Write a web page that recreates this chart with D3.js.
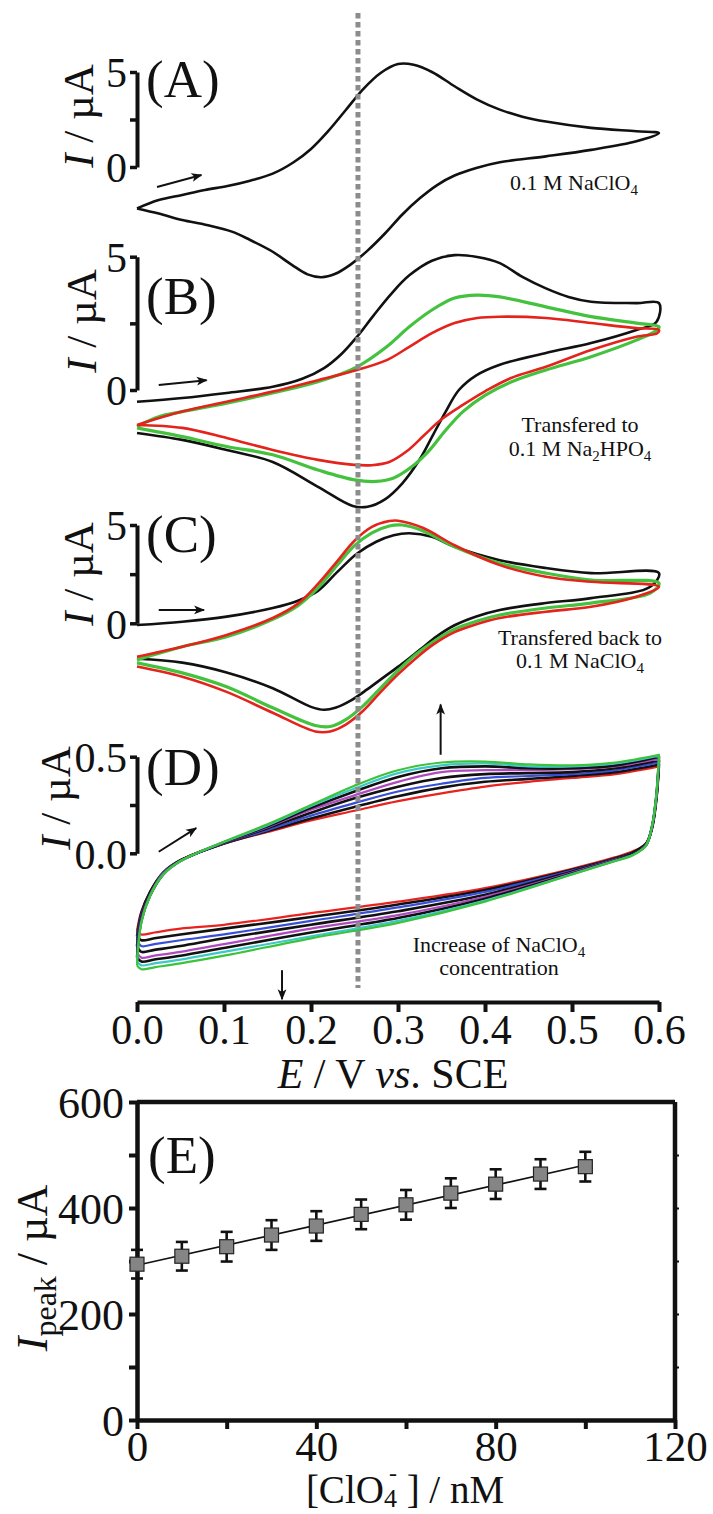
<!DOCTYPE html>
<html><head><meta charset="utf-8">
<script src="https://cdn.jsdelivr.net/npm/d3@7"></script>
<style>
body{margin:0;background:#fff}
text{font-family:"Liberation Serif","Times New Roman",serif;fill:#111}
</style>
</head><body>
<svg id="c" width="713" height="1514"></svg>
<script>
// ---------- DATA ----------
// Panel A (0.1 M NaClO4) : [E (V), I (uA)]
const cvA = [[0,-2.18],[0.025,-1.74],[0.052,-1.47],[0.078,-1.21],[0.104,-1.0],[0.13,-0.72],[0.156,-0.35],[0.18,0.25],[0.2,0.95],[0.22,1.9],[0.24,3.0],[0.26,4.1],[0.28,4.95],[0.3,5.42],[0.318,5.38],[0.339,5.0],[0.365,4.25],[0.391,3.55],[0.417,3.02],[0.443,2.65],[0.47,2.39],[0.522,2.06],[0.574,1.88],[0.6,1.78],
  [0.574,1.35],[0.522,0.9],[0.47,0.56],[0.417,0.25],[0.39,-0.05],[0.365,-0.45],[0.345,-0.95],[0.325,-1.65],[0.305,-2.5],[0.285,-3.5],[0.265,-4.4],[0.245,-5.15],[0.228,-5.62],[0.212,-5.8],[0.196,-5.65],[0.178,-5.15],[0.156,-4.46],[0.13,-3.84],[0.109,-3.4],[0.08,-3.05],[0.052,-2.79],[0.025,-2.45],[0,-2.18]];
// Panel B (transferred to Na2HPO4)
const cvBblack = [[0,-0.44],[0.052,-0.30],[0.103,-0.11],[0.156,0.12],[0.19,0.42],[0.215,0.82],[0.235,1.35],[0.253,2.0],[0.272,2.8],[0.292,3.6],[0.313,4.3],[0.339,4.85],[0.365,5.06],[0.391,4.99],[0.417,4.76],[0.443,4.24],[0.47,3.81],[0.496,3.49],[0.522,3.31],[0.574,3.26],[0.6,3.26],
  [0.597,2.55],[0.574,2.25],[0.522,1.76],[0.47,1.39],[0.417,0.95],[0.39,0.55],[0.37,0.0],[0.355,-0.8],[0.34,-1.7],[0.325,-2.6],[0.305,-3.5],[0.285,-4.1],[0.265,-4.38],[0.248,-4.35],[0.208,-3.63],[0.156,-2.7],[0.103,-2.25],[0.052,-1.87],[0,-1.61]];
const cvBgreen = [[0,-1.37],[0.025,-1.0],[0.052,-0.81],[0.103,-0.49],[0.156,-0.11],[0.208,0.31],[0.253,0.87],[0.287,1.62],[0.313,2.37],[0.339,3.0],[0.365,3.45],[0.391,3.56],[0.417,3.49],[0.47,3.12],[0.522,2.75],[0.574,2.51],[0.6,2.37],
  [0.598,2.25],[0.574,1.87],[0.522,1.25],[0.47,0.75],[0.43,0.3],[0.4,-0.2],[0.375,-0.8],[0.355,-1.5],[0.335,-2.3],[0.315,-2.9],[0.295,-3.3],[0.275,-3.43],[0.25,-3.37],[0.208,-3.0],[0.156,-2.43],[0.103,-2.12],[0.052,-1.75],[0,-1.42]];
const cvBred = [[0,-1.31],[0.052,-0.81],[0.103,-0.44],[0.156,-0.06],[0.208,0.37],[0.253,0.75],[0.287,1.12],[0.313,1.62],[0.339,2.13],[0.365,2.51],[0.391,2.70],[0.417,2.75],[0.47,2.70],[0.522,2.51],[0.574,2.32],[0.6,2.25],
  [0.598,2.13],[0.574,2.0],[0.522,1.5],[0.47,0.87],[0.43,0.45],[0.4,-0.05],[0.375,-0.55],[0.35,-1.1],[0.33,-1.7],[0.31,-2.3],[0.29,-2.7],[0.27,-2.82],[0.25,-2.81],[0.208,-2.62],[0.156,-2.25],[0.103,-1.8],[0.052,-1.42],[0,-1.31]];
// Panel C (transferred back to NaClO4)
const cvCblack = [[0,-0.09],[0.052,0.08],[0.103,0.34],[0.156,0.78],[0.185,1.15],[0.208,1.65],[0.23,2.6],[0.253,3.55],[0.275,4.15],[0.295,4.48],[0.313,4.58],[0.339,4.40],[0.365,3.89],[0.417,3.21],[0.47,2.81],[0.522,2.55],[0.6,2.55],
  [0.59,1.86],[0.522,1.28],[0.47,1.03],[0.417,0.68],[0.39,0.35],[0.365,-0.1],[0.345,-0.65],[0.325,-1.35],[0.305,-2.05],[0.285,-2.7],[0.265,-3.35],[0.245,-3.95],[0.228,-4.3],[0.215,-4.4],[0.2,-4.25],[0.156,-3.3],[0.103,-2.5],[0.052,-2.0],[0,-1.8]];
const cvCgreen = [[0,-1.86],[0.052,-1.19],[0.103,-0.68],[0.156,0.2],[0.185,0.9],[0.208,1.8],[0.23,2.95],[0.25,3.95],[0.27,4.6],[0.29,4.95],[0.305,5.0],[0.329,4.7],[0.365,3.89],[0.417,3.05],[0.47,2.55],[0.522,2.2],[0.6,2.04],
  [0.59,1.54],[0.522,1.03],[0.47,0.78],[0.417,0.42],[0.39,0.1],[0.365,-0.3],[0.34,-0.95],[0.32,-1.6],[0.3,-2.4],[0.28,-3.3],[0.26,-4.2],[0.24,-4.9],[0.222,-5.25],[0.205,-5.2],[0.156,-4.3],[0.103,-3.23],[0.052,-2.52],[0,-2.01]];
const cvCred = [[0,-1.70],[0.052,-1.19],[0.103,-0.59],[0.156,0.27],[0.185,1.0],[0.208,2.0],[0.23,3.15],[0.25,4.2],[0.27,4.9],[0.29,5.2],[0.3,5.22],[0.329,4.85],[0.365,3.97],[0.417,2.96],[0.47,2.37],[0.522,2.11],[0.6,1.86],
  [0.574,1.35],[0.522,0.84],[0.47,0.59],[0.417,0.27],[0.39,-0.05],[0.365,-0.45],[0.34,-1.1],[0.32,-1.8],[0.3,-2.6],[0.28,-3.5],[0.26,-4.45],[0.24,-5.15],[0.222,-5.5],[0.205,-5.5],[0.156,-4.55],[0.103,-3.49],[0.052,-2.72],[0,-2.2]];
// Panel D (increasing NaClO4) : shared potential grids, one current list per scan
const dUpperE = [0,0.005,0.015,0.03,0.05,0.1,0.15,0.2,0.25,0.3,0.35,0.4,0.45,0.5,0.55,0.6];
const dLowerE = [0.6,0.597,0.592,0.585,0.57,0.55,0.5,0.4,0.3,0.2,0.1,0.05,0.02,0.005,0];
const dColors = ['#e8231f','#111111','#3a4fd8','#111111','#b04ac0','#111111','#3cc8c8','#3cc23c'];
const dUp = [
  [-0.40,-0.30,-0.20,-0.10,-0.035,0.05,0.11,0.17,0.22,0.27,0.31,0.345,0.37,0.39,0.41,0.45],
  [-0.43,-0.31,-0.20,-0.10,-0.036,0.05,0.116,0.18,0.24,0.295,0.34,0.37,0.385,0.40,0.42,0.46],
  [-0.45,-0.32,-0.21,-0.10,-0.037,0.052,0.12,0.195,0.26,0.32,0.36,0.39,0.40,0.41,0.43,0.47],
  [-0.48,-0.33,-0.21,-0.105,-0.038,0.053,0.13,0.21,0.285,0.345,0.39,0.41,0.415,0.42,0.44,0.48],
  [-0.51,-0.34,-0.215,-0.105,-0.038,0.055,0.135,0.225,0.30,0.37,0.42,0.43,0.43,0.435,0.45,0.49],
  [-0.54,-0.35,-0.22,-0.11,-0.039,0.057,0.14,0.235,0.32,0.395,0.44,0.45,0.44,0.44,0.455,0.50],
  [-0.56,-0.355,-0.22,-0.11,-0.04,0.058,0.145,0.245,0.335,0.415,0.455,0.465,0.45,0.45,0.465,0.505],
  [-0.58,-0.36,-0.22,-0.11,-0.04,0.06,0.15,0.25,0.35,0.43,0.47,0.475,0.46,0.455,0.47,0.51]
];
const dLow = [
  [0.45,0.28,0.13,0.05,0.01,-0.02,-0.08,-0.18,-0.25,-0.31,-0.37,-0.39,-0.41,-0.42,-0.40],
  [0.46,0.28,0.13,0.05,0.005,-0.025,-0.085,-0.19,-0.265,-0.33,-0.39,-0.42,-0.44,-0.45,-0.43],
  [0.47,0.29,0.135,0.045,0.0,-0.028,-0.09,-0.20,-0.28,-0.35,-0.42,-0.45,-0.47,-0.48,-0.45],
  [0.48,0.29,0.135,0.045,0.0,-0.03,-0.095,-0.215,-0.30,-0.37,-0.44,-0.48,-0.50,-0.51,-0.48],
  [0.49,0.29,0.14,0.045,-0.005,-0.033,-0.10,-0.225,-0.32,-0.39,-0.47,-0.51,-0.53,-0.54,-0.51],
  [0.50,0.30,0.14,0.04,-0.005,-0.036,-0.105,-0.235,-0.335,-0.41,-0.49,-0.53,-0.55,-0.56,-0.54],
  [0.505,0.30,0.14,0.04,-0.008,-0.038,-0.108,-0.245,-0.35,-0.43,-0.51,-0.55,-0.57,-0.58,-0.56],
  [0.51,0.30,0.14,0.04,-0.01,-0.04,-0.11,-0.25,-0.36,-0.44,-0.53,-0.57,-0.59,-0.60,-0.58]
];
const eTicks = [0,0.1,0.2,0.3,0.4,0.5,0.6];
const dashE = 0.254;
// Panel E
const conc = [0,10,20,30,40,50,60,70,80,90,100];
const ipeak = [294,309,327,349,366,388,406,428,445,464,478];
const ipeakErr = [27,27,28,28,28,28,28,28,28,28,28];
const fitLine = [[0,292],[100,481]];
const eXTicks = [0,20,40,60,80,100,120];
const eXLabels = [0,40,80,120];
const eYTicks = [0,100,200,300,400,500,600];
const eYLabels = [0,200,400,600];

// ---------- SCALES ----------
const svg = d3.select('#c');
const x = d3.scaleLinear().domain([0,0.6]).range([137,659]);
const yA = d3.scaleLinear().domain([0,5]).range([167,72]);
const yB = d3.scaleLinear().domain([0,5]).range([390,256.7]);
const yC = d3.scaleLinear().domain([0,5]).range([623.3,525]);
const yD = d3.scaleLinear().domain([0,0.5]).range([853.3,756.7]);
const xE = d3.scaleLinear().domain([0,120]).range([137,675]);
const yE = d3.scaleLinear().domain([0,600]).range([1420,1102]);

const defs = svg.append('defs');
defs.append('marker').attr('id','ah').attr('viewBox','0 0 10 10').attr('refX',9).attr('refY',5)
  .attr('markerWidth',13).attr('markerHeight',11).attr('markerUnits','userSpaceOnUse').attr('orient','auto')
  .append('path').attr('d','M0,1 L10,5 L0,9 L2.5,5 Z').attr('fill','#111');

function cvLine(ys){ return d3.line().x(d=>x(d[0])).y(d=>ys(d[1])).curve(d3.curveCatmullRom.alpha(0.5)); }
function drawCV(data, ys, color, w){
  svg.append('path').attr('d', cvLine(ys)(data)).attr('fill','none').attr('stroke',color)
    .attr('stroke-width',w).attr('stroke-linejoin','round');
}

// scale bars
function scaleBar(ys, vals, fmt){
  const ax = d3.axisLeft(ys).tickValues(vals).tickSize(7).tickSizeOuter(0).tickPadding(3)
    .tickFormat((d,i)=> (i===1?'':fmt(d)));
  const g = svg.append('g').attr('transform','translate(137,0)').call(ax);
  g.select('.domain').attr('stroke','#111').attr('stroke-width',4);
  g.selectAll('.tick line').attr('stroke','#111').attr('stroke-width',3.5);
  g.selectAll('.tick text').attr('font-size',42).attr('font-family','"Liberation Serif",serif').attr('fill','#111').attr('dy','0.35em');
  return g;
}
function yLabel(cx, cy){
  const t = svg.append('text').attr('transform',`translate(${cx},${cy}) rotate(-90)`).attr('text-anchor','middle').attr('font-size',43);
  t.append('tspan').attr('font-style','italic').text('I');
  t.append('tspan').text(' / \u00b5A');
}
function panelLabel(s, px, py){ svg.append('text').attr('x',px).attr('y',py).attr('font-size',53).text(s); }
function arrow(p0, p1, ys){
  svg.append('line').attr('x1',x(p0[0])).attr('y1',ys(p0[1])).attr('x2',x(p1[0])).attr('y2',ys(p1[1]))
    .attr('stroke','#111').attr('stroke-width',2).attr('marker-end','url(#ah)');
}
function note(lines, cx){
  lines.forEach(l=>{
    const t = svg.append('text').attr('x',cx).attr('y',l.y).attr('text-anchor','middle').attr('font-size',22);
    l.parts.forEach(p=>{
      const s = t.append('tspan').text(p[0]);
      if(p[1]==='sub'){ s.attr('font-size',15).attr('dy',5); }
      else if(p[1]==='back'){ s.attr('dy',-5); }
    });
  });
}

// ---------- PANEL A ----------
drawCV(cvA, yA, '#111', 2.6);
scaleBar(yA, [0,2.5,5], d3.format('d'));
yLabel(93, 116);
panelLabel('(A)', 146, 97);
arrow([0.023,-1.05],[0.074,-0.42], yA);
note([{y:190, parts:[['0.1 M NaClO'],['4','sub']]}], 574);

// ---------- PANEL B ----------
drawCV(cvBblack, yB, '#111', 2.6);
drawCV(cvBgreen, yB, '#44c23e', 3.2);
drawCV(cvBred, yB, '#e3231c', 2.6);
scaleBar(yB, [0,2.5,5], d3.format('d'));
yLabel(96, 321);
panelLabel('(B)', 146, 314);
arrow([0.025,0.19],[0.08,0.37], yB);
note([{y:432, parts:[['Transfered to']]},{y:456, parts:[['0.1 M Na'],['2','sub'],['HPO','back'],['4','sub']]}], 580);

// ---------- PANEL C ----------
drawCV(cvCblack, yC, '#111', 2.6);
drawCV(cvCgreen, yC, '#44c23e', 3.2);
drawCV(cvCred, yC, '#e3231c', 2.6);
scaleBar(yC, [0,2.5,5], d3.format('d'));
yLabel(93, 574);
panelLabel('(C)', 146, 552);
arrow([0.025,0.68],[0.077,0.68], yC);
note([{y:645, parts:[['Transfered back to']]},{y:668, parts:[['0.1 M NaClO'],['4','sub']]}], 580);

// ---------- PANEL D ----------
dUp.forEach((u,i)=>{
  const pts = dUpperE.map((e,j)=>[e,u[j]]).concat(dLowerE.map((e,j)=>[e,dLow[i][j]]));
  drawCV(pts, yD, dColors[i], dColors[i]==='#111111'?2.6:2.2);
});
scaleBar(yD, [0,0.25,0.5], d3.format('.1f'));
yLabel(70, 798);
panelLabel('(D)', 146, 785);
arrow([0.025,0.008],[0.068,0.13], yD);
arrow([0.349,0.51],[0.349,0.77], yD);
arrow([0.1667,-0.605],[0.1667,-0.755], yD);
note([{y:952, parts:[['Increase of NaClO'],['4','sub']]},{y:975, parts:[['concentration']]}], 499);

// D x-axis (shared potential axis)
{
  const g = svg.append('g').attr('transform','translate(0,1002)')
    .call(d3.axisBottom(x).tickValues(eTicks).tickSize(10).tickSizeOuter(0).tickPadding(2).tickFormat(d3.format('.1f')));
  g.select('.domain').attr('stroke','#111').attr('stroke-width',4);
  g.selectAll('.tick line').attr('stroke','#111').attr('stroke-width',4);
  g.selectAll('.tick text').attr('font-size',42).attr('font-family','"Liberation Serif",serif').attr('fill','#111');
  const t = svg.append('text').attr('x',393).attr('y',1088).attr('text-anchor','middle').attr('font-size',42);
  t.append('tspan').attr('font-style','italic').text('E');
  t.append('tspan').text(' / V ');
  t.append('tspan').attr('font-style','italic').text('vs');
  t.append('tspan').text('. SCE');
}

// dashed reference line
svg.append('line').attr('x1',x(dashE)).attr('x2',x(dashE)).attr('y1',13).attr('y2',988)
  .attr('stroke','#8c8c8c').attr('stroke-width',5).attr('stroke-dasharray','5.5,3.5');

// ---------- PANEL E ----------
{
  svg.append('line').attr('x1',xE(0)).attr('x2',xE(120)).attr('y1',yE(600)).attr('y2',yE(600)).attr('stroke','#111').attr('stroke-width',4.5);
  svg.append('line').attr('x1',xE(120)).attr('x2',xE(120)).attr('y1',yE(600)).attr('y2',yE(0)).attr('stroke','#111').attr('stroke-width',4.5);
  const gx = svg.append('g').attr('transform',`translate(0,${yE(0)})`)
    .call(d3.axisBottom(xE).tickValues(eXTicks).tickSize(9).tickSizeOuter(0).tickPadding(1)
      .tickFormat(d=> eXLabels.includes(d)? d : ''));
  gx.select('.domain').attr('stroke','#111').attr('stroke-width',4.5);
  gx.selectAll('.tick line').attr('stroke','#111').attr('stroke-width',4);
  gx.selectAll('.tick text').attr('font-size',43).attr('font-family','"Liberation Serif",serif').attr('fill','#111');
  const gy = svg.append('g').attr('transform',`translate(${xE(0)},0)`)
    .call(d3.axisLeft(yE).tickValues(eYTicks).tickSize(8).tickSizeOuter(0).tickPadding(5)
      .tickFormat(d=> eYLabels.includes(d)? d : ''));
  gy.select('.domain').attr('stroke','#111').attr('stroke-width',4.5);
  gy.selectAll('.tick line').attr('stroke','#111').attr('stroke-width',4);
  gy.selectAll('.tick text').attr('font-size',44).attr('font-family','"Liberation Serif",serif').attr('fill','#111').attr('dy','0.35em');
  const gr = svg.append('g').attr('transform',`translate(${xE(120)},0)`)
    .call(d3.axisLeft(yE).tickValues(eYTicks.slice(1,-1)).tickSize(4).tickSizeOuter(0).tickFormat(''));
  gr.select('.domain').remove();
  gr.selectAll('.tick line').attr('stroke','#111').attr('stroke-width',2).attr('transform','translate(4,0)');

  svg.append('path').attr('d', d3.line().x(d=>xE(d[0])).y(d=>yE(d[1]))(fitLine))
    .attr('stroke','#111').attr('stroke-width',1.6).attr('fill','none');
  const eb = svg.append('g');
  conc.forEach((c,i)=>{
    const cx = xE(c), lo = yE(ipeak[i]-ipeakErr[i]), hi = yE(ipeak[i]+ipeakErr[i]);
    eb.append('line').attr('x1',cx).attr('x2',cx).attr('y1',lo).attr('y2',hi).attr('stroke','#111').attr('stroke-width',2.6);
    eb.append('line').attr('x1',cx-6).attr('x2',cx+6).attr('y1',lo).attr('y2',lo).attr('stroke','#111').attr('stroke-width',2.6);
    eb.append('line').attr('x1',cx-6).attr('x2',cx+6).attr('y1',hi).attr('y2',hi).attr('stroke','#111').attr('stroke-width',2.6);
  });
  svg.append('g').selectAll('rect').data(conc).join('rect')
    .attr('x',d=>xE(d)-7).attr('y',(d,i)=>yE(ipeak[i])-7).attr('width',14).attr('height',14)
    .attr('fill','#858585').attr('stroke','#222').attr('stroke-width',1.2);

  panelLabel('(E)', 148, 1173);
  const tx = svg.append('text').attr('x',405).attr('y',1503).attr('text-anchor','middle').attr('font-size',39);
  tx.append('tspan').text('[ClO');
  tx.append('tspan').attr('font-size',26).attr('dy',4).text('4');
  tx.append('tspan').attr('font-size',24).attr('dx',-8).attr('dy',-26).text('-');
  tx.append('tspan').attr('dy',22).text(' ] / nM');
  const ty = svg.append('text').attr('transform','translate(47,1268) rotate(-90)').attr('text-anchor','middle').attr('font-size',44);
  ty.append('tspan').attr('font-style','italic').text('I');
  ty.append('tspan').attr('font-size',32).attr('dy',9).text('peak');
  ty.append('tspan').attr('dy',-9).text(' / \u00b5A');
}
</script>
</body></html>
